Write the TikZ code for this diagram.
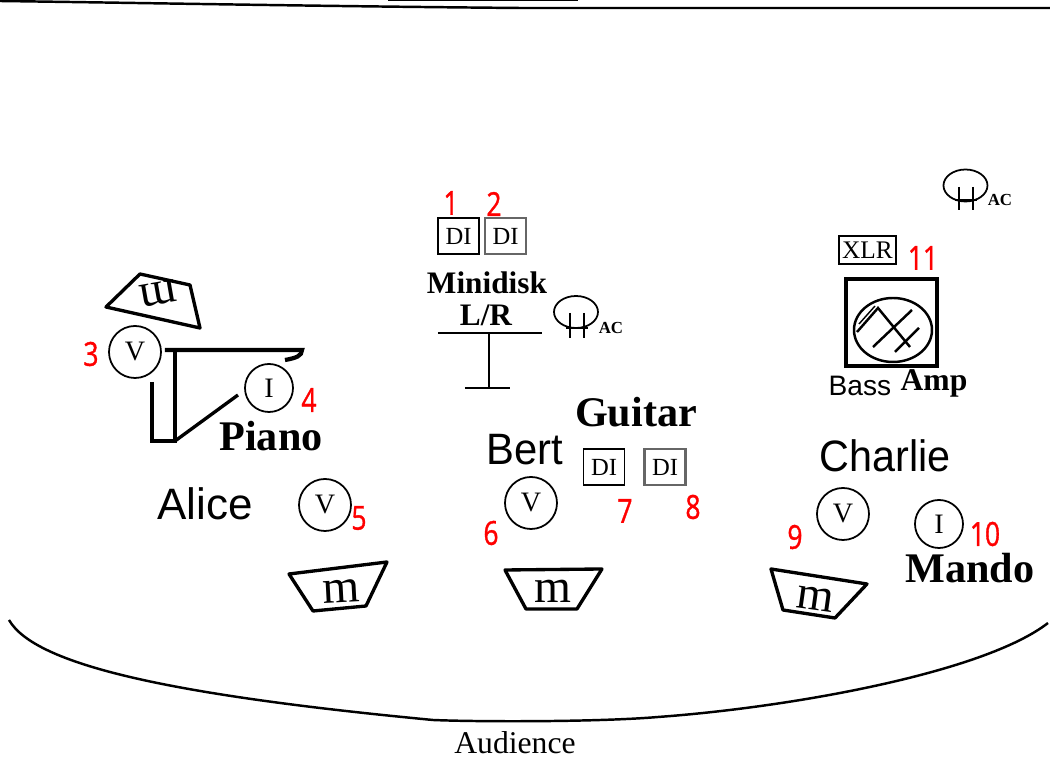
\documentclass[tikz,border=0pt]{standalone}
\usepackage{fontspec}
\setmainfont{Liberation Serif}
\setsansfont{Liberation Sans}
\newfontfamily\numfont[FakeBold=1.2]{Open Sans}
\tikzset{
  numlabel/.style={text=red,font=\numfont\fontsize{9.4}{9.4}\selectfont,inner sep=0pt,xscale=.8},
  person/.style={font=\sffamily\fontsize{12.5}{12.5}\selectfont,inner sep=0pt},
  instr/.style={font=\bfseries\fontsize{12}{12}\selectfont,inner sep=0pt},
  small/.style={font=\bfseries\fontsize{8.9}{8.9}\selectfont,inner sep=0pt},
  ac/.style={font=\bfseries\fontsize{4.8}{4.8}\selectfont,inner sep=0pt},
  mic/.style={draw,circle,line width=.5pt,minimum size=.52cm,inner sep=0pt,font=\fontsize{8}{8}\selectfont},
  dibox/.style={draw,line width=.55pt,minimum width=.41cm,minimum height=.36cm,inner sep=0pt,font=\fontsize{7}{7}\selectfont},
  monitor/.style={line width=.95pt,line join=round},
  monlabel/.style={inner sep=0pt,font=\fontsize{13.5}{13.5}\selectfont},
}
\begin{document}
\begin{tikzpicture}[x=.01cm,y=-.01cm]
  \useasboundingbox (0,0) rectangle (1050,761);
  % stage edge
  \draw[line width=.7pt] (0,1) .. controls (150,3) and (300,6) .. (520,8) -- (1050,8);
  \draw[line width=.5pt] (388,0) -- (578,0);
  \draw[line width=.7pt] (9,620) .. controls (35,665) and (170,695) .. (433,720)
  .. controls (480,722) and (600,722) .. (658,717)
  .. controls (795,707) and (985,672) .. (1048,623);
  \node[inner sep=0pt,font=\fontsize{9}{9}\selectfont] (audience) at (515,743) {Audience};
  % piano
  \draw[line width=1.2pt,line join=miter] (152,382) -- (152,441) -- (175,441) -- (175,350);
  \draw[line width=1.2pt] (165,350) -- (302,350) .. controls (302,356) and (296,358) .. (285,360);
  \draw[line width=.95pt] (175,441) -- (238,395);
  \draw[monitor] (106,307) -- (140,274) -- (190,285) -- (200,328) -- cycle;
  \node[monlabel,rotate=190] (pianomon) at (158,294) {m};
  \node[mic] (pianov) at (135,352) {V};
  \node[mic,minimum size=.48cm] (pianoi) at (269,388) {I};
  \node[instr] (piano) at (271,436) {Piano};
  \node[numlabel] (n3) at (91,354) {3};
  \node[numlabel] (n4) at (309,400) {4};
  % alice
  \node[person] (alice) at (205,504) {Alice};
  \node[mic] (alicev) at (325,505) {V};
  \node[numlabel] (n5) at (359,518) {5};
  \draw[monitor] (289,574) -- (387,562) -- (366,606) -- (313,611) -- cycle;
  \node[monlabel,rotate=3] (alicemon) at (341,591) {m};
  % minidisk
  \node[dibox] (di1) at (458.5,236) {DI};
  \node[dibox,draw=black!60,line width=.8pt] (di2) at (505.5,236) {DI};
  \node[numlabel] (n1) at (451,203) {1};
  \node[numlabel] (n2) at (494,204) {2};
  \node[small] (minidisk) at (487,283) {Minidisk};
  \node[small] (lr) at (486,315) {L/R};
  \draw[line width=.7pt] (438,333) -- (542,333);
  \draw[line width=.7pt] (489,333) -- (489,388);
  \draw[line width=.7pt] (465,388) -- (510,388);
  \draw[line width=.5pt] (576,312) ellipse (22 and 16);
  \draw[line width=.5pt] (570,313) -- (570,338) (584,313) -- (584,338) (566,328) -- (588,328);
  \node[ac] (ac1) at (611,328) {AC};
  % bert
  \node[person,xscale=.95] (bert) at (525,450) {Bert};
  \node[mic] (bertv) at (531,503) {V};
  \node[numlabel] (n6) at (491,533) {6};
  \node[instr] (guitar) at (636,412) {Guitar};
  \node[dibox] (di7) at (604,467) {DI};
  \node[dibox,draw=black!60,line width=.8pt] (di8) at (665,467) {DI};
  \node[numlabel] (n7) at (625,511) {7};
  \node[numlabel] (n8) at (693,507) {8};
  \draw[monitor] (505,570) -- (602,569) -- (577,609) -- (526,609) -- cycle;
  \node[monlabel] (bertmon) at (553,591) {m};
  % charlie
  \node[person,xscale=.94] (charlie) at (885,456) {Charlie};
  \node[mic] (charliev) at (843,514) {V};
  \node[numlabel] (n9) at (795,537) {9};
  \node[mic,minimum size=.48cm] (mandoi) at (939,524) {I};
  \node[numlabel] (n10) at (985,534) {10};
  \node[instr] (mando) at (970,568) {Mando};
  \draw[monitor] (771,569) -- (867,584) -- (835,618) -- (783,610) -- cycle;
  \node[monlabel,rotate=-8] (charliemon) at (815,599) {m};
  % bass amp
  \draw[line width=.5pt] (965.5,185.5) ellipse (22 and 16);
  \draw[line width=.5pt] (959,187) -- (959,210) (973,187) -- (973,210) (955,200) -- (977,200);
  \node[ac] (ac2) at (1000,200) {AC};
  \node[dibox,minimum width=.57cm,minimum height=.28cm,line width=.7pt,font=\fontsize{7.2}{7.2}\selectfont] (xlr) at (867.5,250) {XLR};
  \node[numlabel] (n11) at (923,258) {11};
  \draw[line width=1.3pt] (846,279) rectangle (937,366);
  \draw[line width=.7pt] (893,330) ellipse (39 and 32);
  \draw[line width=.7pt] (857,332) -- (878,308) -- (910,347) (873,347) -- (912,310) (895,352) -- (919,328);
  \draw[line width=.4pt] (859,324) -- (875,306);
  \node[inner sep=0pt,font=\sffamily\fontsize{8}{8}\selectfont] (bass) at (860,386) {Bass};
  \node[inner sep=0pt,font=\bfseries\fontsize{9}{9}\selectfont] (amp) at (934,383) {Amp};
\end{tikzpicture}
\end{document}
